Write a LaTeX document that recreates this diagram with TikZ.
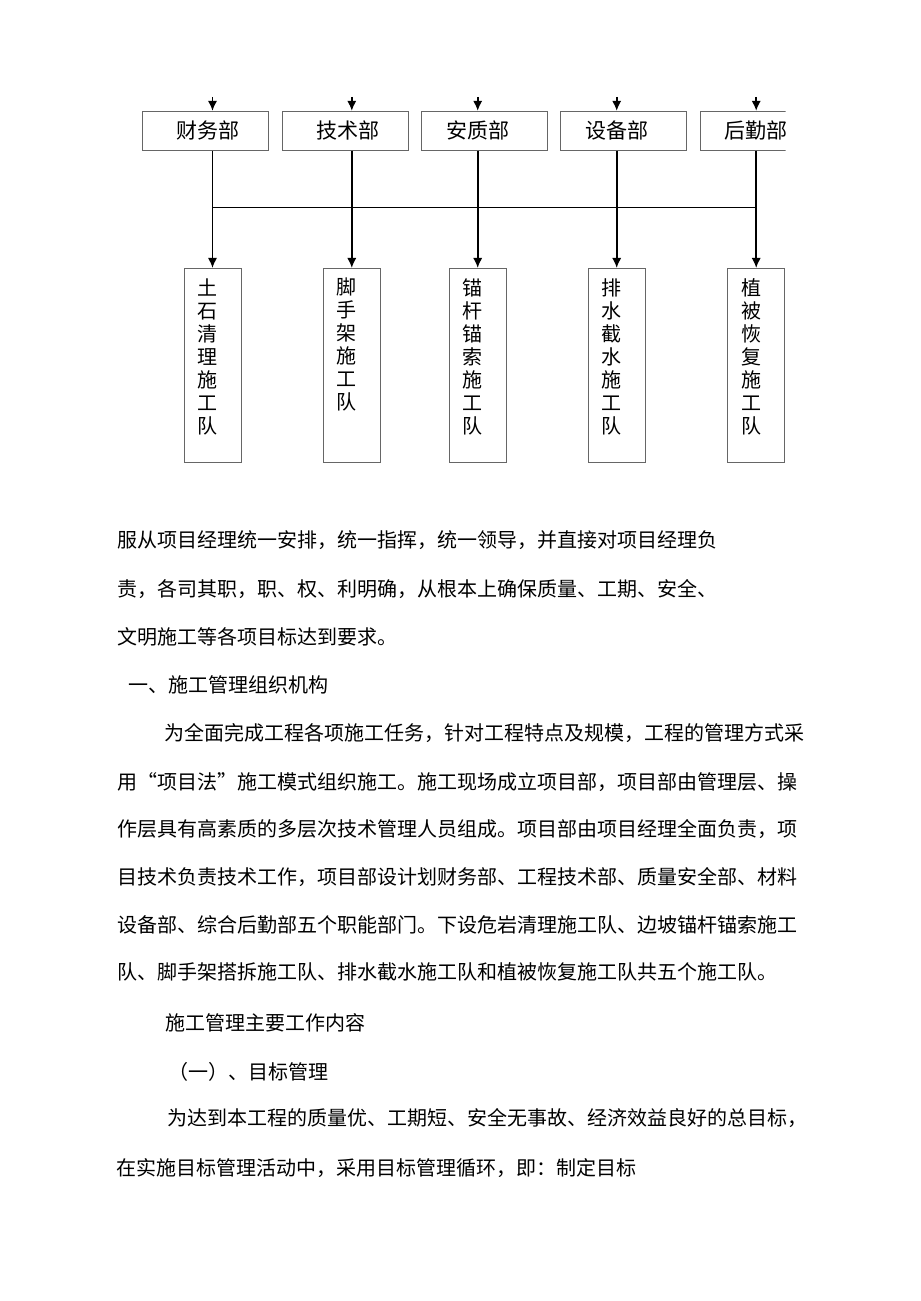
\documentclass[tikz,border=0pt]{standalone}
\usepackage{fontspec}
\setmainfont{Noto Sans CJK SC}
\usetikzlibrary{arrows.meta}
\newcommand{\qopen}{\makebox[15pt][r]{“}}
\newcommand{\qclose}{\makebox[15pt][l]{”}}
\begin{document}
\begin{tikzpicture}[x=0.75pt,y=-0.75pt,
    dept/.style={draw=black!60, line width=0.6pt, minimum width=94.5pt, minimum height=29.25pt, inner sep=0pt},
    deptname/.style={font=\fontsize{15.75pt}{18pt}\selectfont, inner sep=0pt},
    team/.style={draw=black!60, line width=0.6pt, minimum width=42.75pt, minimum height=145.5pt, inner sep=0pt},
    teamname/.style={font=\fontsize{15pt}{17.25pt}\selectfont, align=center, anchor=north, inner sep=0pt},
    para/.style={font=\fontsize{15pt}{18pt}\selectfont, anchor=west, inner sep=0pt},
    link/.style={line width=1.2pt, -{Latex[length=7.5pt,width=7pt]}}]
            \path[use as bounding box, fill=white] (0,0) rectangle (920,1301);
            \begin{scope}
            \clip (0,0) rectangle (785.6,480);
            % departments
            \node   (cw) at (205.7,130.7) [dept] {};
            \node   (js) at (345.3,130.7) [dept] {};
            \node   (aq) at (484.7,130.7) [dept] {};
            \node   (sb) at (623.8,130.7) [dept] {};
            \node   (hq) at (763,130.7) [dept] {};
            \node   (cwt) at (208.3,130.7) [deptname] {财务部};
            \node   (jst) at (348.3,130.7) [deptname] {技术部};
            \node   (aqt) at (478.3,130.7) [deptname] {安质部};
            \node   (sbt) at (617,130.7) [deptname] {设备部};
            \node   (hqt) at (755.5,130.7) [deptname] {后勤部};
            \coordinate (cwin) at (212.5,97);
            \coordinate (jsin) at (351.8,97);
            \coordinate (aqin) at (477.7,97);
            \coordinate (sbin) at (616.7,97);
            \coordinate (hqin) at (756.2,97);
            \coordinate (bar) at (0,207.3);
            % teams
            \node   (ts) at (212.5,365.3) [team] {};
            \node   (jsj) at (351.8,365.3) [team] {};
            \node   (mg) at (477.7,365.3) [team] {};
            \node   (ps) at (616.7,365.3) [team] {};
            \node   (zb) at (756.2,365.3) [team] {};
            \node   (tst) at (207.5,278) [teamname] {土\\石\\清\\理\\施\\工\\队};
            \node   (jsjt) at (346.8,278) [teamname] {脚\\手\\架\\施\\工\\队};
            \node   (mgt) at (472.7,278) [teamname] {锚\\杆\\锚\\索\\施\\工\\队};
            \node   (pst) at (611.7,278) [teamname] {排\\水\\截\\水\\施\\工\\队};
            \node   (zbt) at (751.2,278) [teamname] {植\\被\\恢\\复\\施\\工\\队};
            \draw
            (cwin) edge[link] (cwin |- cw.north)
            (jsin) edge[link] (jsin |- js.north)
            (aqin) edge[link] (aqin |- aq.north)
            (sbin) edge[link] (sbin |- sb.north)
            (hqin) edge[link] (hqin |- hq.north)
            (ts.north |- cw.south) edge[link] (ts.north)
            (jsj.north |- js.south) edge[link] (jsj.north)
            (mg.north |- aq.south) edge[link] (mg.north)
            (ps.north |- sb.south) edge[link] (ps.north)
            (zb.north |- hq.south) edge[link] (zb.north)
            ;
            \draw[line width=0.9pt] (ts.north |- bar) -- (zb.north |- bar);
            \end{scope}
            % text below
            \node   (p1) at (117,540) [para] {服从项目经理统一安排，统一指挥，统一领导，并直接对项目经理负};
            \node   (p2) at (117,589) [para] {责，各司其职，职、权、利明确，从根本上确保质量、工期、安全、};
            \node   (p3) at (117,637) [para] {文明施工等各项目标达到要求。};
            \node   (p4) at (128,685) [para] {一、施工管理组织机构};
            \node   (p5) at (164,733) [para] {为全面完成工程各项施工任务，针对工程特点及规模，工程的管理方式采};
            \node   (p6) at (117,782) [para] {用\qopen 项目法\qclose 施工模式组织施工。施工现场成立项目部，项目部由管理层、操};
            \node   (p7) at (117,829) [para] {作层具有高素质的多层次技术管理人员组成。项目部由项目经理全面负责，项};
            \node   (p8) at (117,877) [para] {目技术负责技术工作，项目部设计划财务部、工程技术部、质量安全部、材料};
            \node   (p9) at (117,925) [para] {设备部、综合后勤部五个职能部门。下设危岩清理施工队、边坡锚杆锚索施工};
            \node   (p10) at (117,972) [para] {队、脚手架搭拆施工队、排水截水施工队和植被恢复施工队共五个施工队。};
            \node   (p11) at (165,1023) [para] {施工管理主要工作内容};
            \node   (p12) at (168,1072) [para] {（一）、目标管理};
            \node   (p13) at (167,1118) [para] {为达到本工程的质量优、工期短、安全无事故、经济效益良好的总目标，};
            \node   (p14) at (116,1168) [para] {在实施目标管理活动中，采用目标管理循环，即：制定目标};
\end{tikzpicture}
\end{document}
